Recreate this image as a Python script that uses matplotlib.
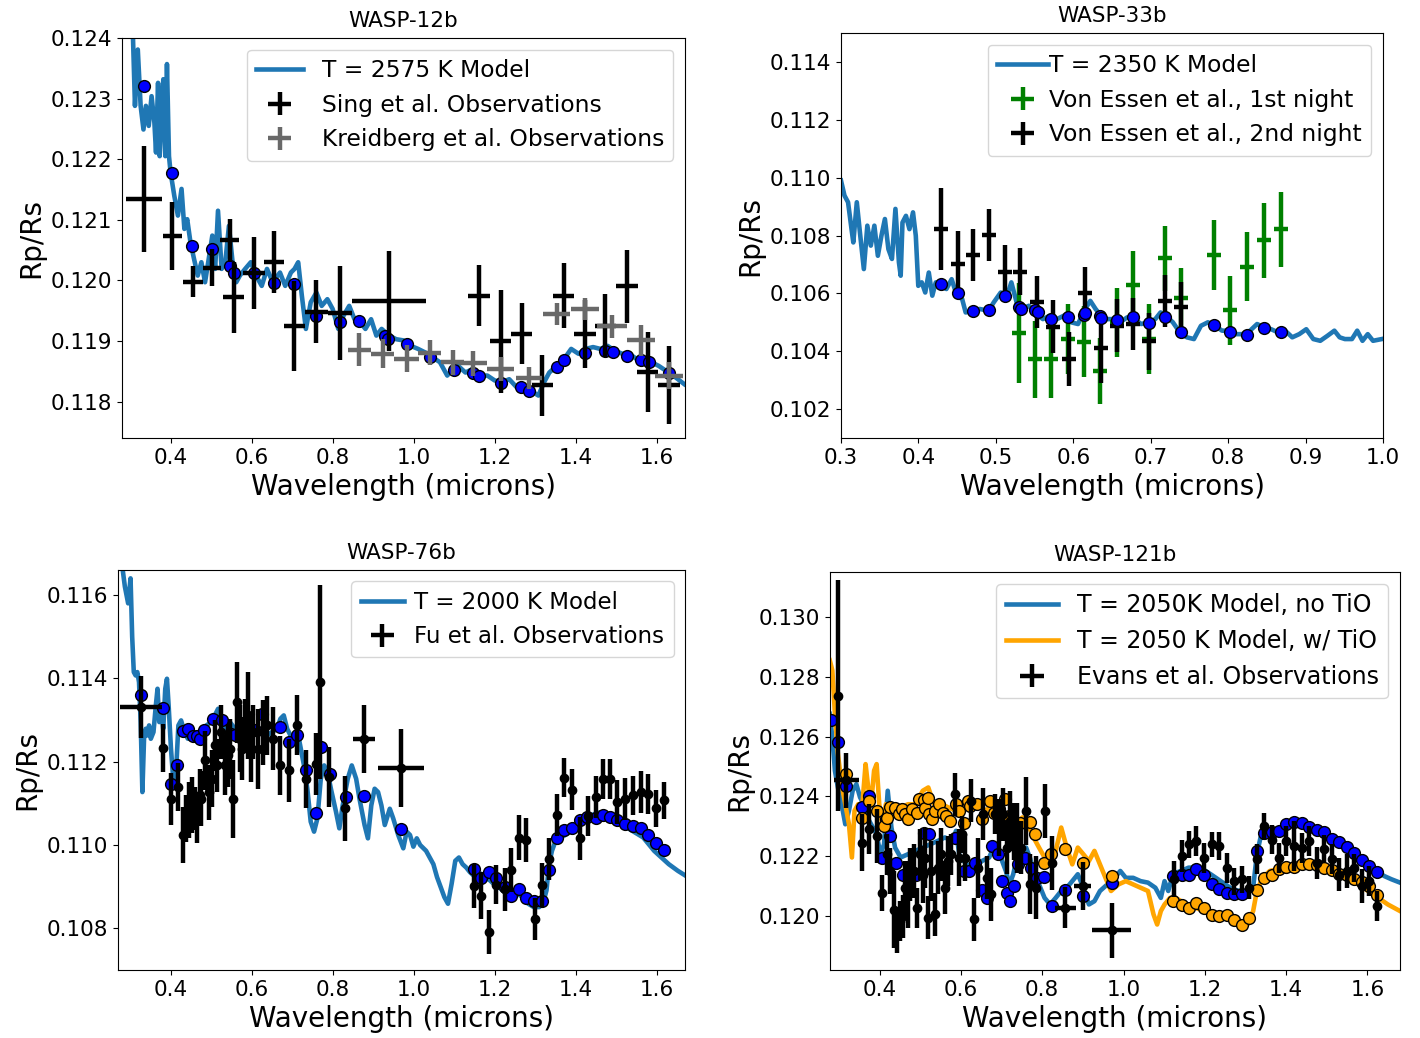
import matplotlib
matplotlib.use('Agg')
import matplotlib.pyplot as plt
from matplotlib import ticker

# ---------------- WASP-12b ----------------
w12_model_wl = [0.305, 0.312, 0.319, 0.326, 0.333, 0.339, 0.346, 0.353, 0.360, 0.364,
                0.369, 0.373, 0.378, 0.382, 0.387, 0.391, 0.396, 0.400, 0.409, 0.418,
                0.427, 0.434, 0.441, 0.449, 0.458, 0.467, 0.476, 0.485, 0.494, 0.503,
                0.510, 0.517, 0.526, 0.535, 0.544, 0.553, 0.562, 0.571, 0.584, 0.598,
                0.611, 0.625, 0.638, 0.652, 0.670, 0.683, 0.697, 0.706, 0.715, 0.724,
                0.734, 0.746, 0.760, 0.773, 0.787, 0.800, 0.814, 0.827, 0.841, 0.854,
                0.868, 0.881, 0.895, 0.908, 0.921, 0.939, 0.957, 0.975, 0.993, 1.011,
                1.029, 1.047, 1.065, 1.083, 1.097, 1.110, 1.128, 1.146, 1.164, 1.182,
                1.200, 1.218, 1.236, 1.254, 1.272, 1.290, 1.308, 1.322, 1.335, 1.353,
                1.371, 1.389, 1.407, 1.425, 1.443, 1.461, 1.479, 1.497, 1.515, 1.533,
                1.551, 1.569, 1.587, 1.605, 1.623, 1.641, 1.668]
w12_model_rp = [0.12450, 0.12288, 0.12381, 0.12288, 0.12249, 0.12288, 0.12255, 0.12304, 0.12260, 0.12211,
                0.12326, 0.12205, 0.12277, 0.12332, 0.12205, 0.12357, 0.12205, 0.12178, 0.12140, 0.12107,
                0.12151, 0.12085, 0.12101, 0.12063, 0.12035, 0.12008, 0.12030, 0.11997, 0.12035, 0.12074,
                0.12019, 0.12115, 0.12019, 0.12030, 0.12090, 0.12030, 0.11997, 0.12008, 0.12019, 0.12030,
                0.12008, 0.11991, 0.12019, 0.11997, 0.12013, 0.11991, 0.12013, 0.12019, 0.12030, 0.11975,
                0.11920, 0.11964, 0.11980, 0.11958, 0.11969, 0.11953, 0.11920, 0.11942, 0.11958, 0.11936,
                0.11931, 0.11920, 0.11936, 0.11909, 0.11920, 0.11909, 0.11903, 0.11901, 0.11892, 0.11887,
                0.11881, 0.11873, 0.11865, 0.11843, 0.11854, 0.11859, 0.11848, 0.11854, 0.11843, 0.11843,
                0.11835, 0.11832, 0.11837, 0.11824, 0.11824, 0.11818, 0.11810, 0.11832, 0.11848, 0.11859,
                0.11870, 0.11887, 0.11879, 0.11887, 0.11890, 0.11887, 0.11892, 0.11884, 0.11879, 0.11879,
                0.11870, 0.11870, 0.11865, 0.11859, 0.11851, 0.11843, 0.11829]
w12_bin_wl = [0.3344, 0.4045, 0.4539, 0.5016, 0.5465, 0.5555, 0.6050, 0.6562, 0.7057, 0.7596,
              0.8189, 0.8657, 0.9304, 0.9367, 0.9826, 1.0410, 1.0994, 1.1462, 1.1624, 1.2145,
              1.2648, 1.2855, 1.3529, 1.3709, 1.4231, 1.4716, 1.4922, 1.5264, 1.5615, 1.5822,
              1.6316]
w12_bin_rp = [0.12320, 0.12178, 0.12057, 0.12052, 0.12024, 0.12013, 0.12013, 0.11996, 0.11994, 0.11942,
              0.11931, 0.11933, 0.11908, 0.11904, 0.11895, 0.11873, 0.11853, 0.11848, 0.11843, 0.11831,
              0.11824, 0.11818, 0.11857, 0.11869, 0.11881, 0.11883, 0.11882, 0.11876, 0.11869, 0.11866,
              0.11847]
sing_wl = [0.3344, 0.4045, 0.4557, 0.5016, 0.5465, 0.5555, 0.6050, 0.6562, 0.7057, 0.7596,
           0.8180, 0.9394, 1.1624, 1.2145, 1.2666, 1.3179, 1.3709, 1.4231, 1.4734, 1.5264,
           1.5777, 1.6298]
sing_wl_err = [0.045, 0.024, 0.025, 0.0225, 0.0234, 0.0256, 0.027, 0.0247, 0.025, 0.029,
               0.030, 0.0908, 0.027, 0.0265, 0.0265, 0.026, 0.026, 0.026, 0.0256, 0.0265,
               0.026, 0.027]
sing_rp = [0.12134, 0.12074, 0.11998, 0.12021, 0.12066, 0.11972, 0.12012, 0.12031, 0.11925, 0.11948,
           0.11946, 0.11966, 0.11975, 0.11900, 0.11912, 0.11827, 0.11975, 0.11912, 0.11925, 0.11990,
           0.11849, 0.11827]
sing_rp_err = [0.00087, 0.00056, 0.00025, 0.00031, 0.00036, 0.00058, 0.00059, 0.00051, 0.00074, 0.00052,
               0.00078, 0.00082, 0.00051, 0.00085, 0.00050, 0.00050, 0.00053, 0.00056, 0.00052, 0.00061,
               0.00066, 0.00064]
kreid_wl = [0.8657, 0.9232, 0.9826, 1.0401, 1.0967, 1.1462, 1.2145, 1.2855, 1.3529, 1.4231,
            1.4896, 1.5615, 1.6298]
kreid_wl_err = [0.0279, 0.0292, 0.0301, 0.0283, 0.0283, 0.035, 0.0337, 0.0324, 0.0328, 0.0337,
                0.0369, 0.0337, 0.035]
kreid_rp = [0.11886, 0.11879, 0.11871, 0.11881, 0.11865, 0.11863, 0.11854, 0.11839, 0.11944, 0.11953,
            0.11924, 0.11901, 0.11843]
kreid_rp_err = [0.00028, 0.00024, 0.00022, 0.00021, 0.00021, 0.00020, 0.00020, 0.00018, 0.00018, 0.00018,
                0.00019, 0.00025, 0.00022]

# ---------------- WASP-33b ----------------
w33_model_wl = [0.300, 0.3045, 0.3091, 0.3136, 0.3159, 0.3204, 0.3249, 0.3295, 0.3340, 0.3385,
                0.3431, 0.3476, 0.3522, 0.3567, 0.3612, 0.3658, 0.3703, 0.3748, 0.3771, 0.3794,
                0.3839, 0.3884, 0.3930, 0.3966, 0.3998, 0.4043, 0.4088, 0.4134, 0.4179, 0.4224,
                0.4293, 0.4361, 0.4429, 0.4497, 0.4565, 0.4610, 0.4701, 0.4791, 0.4905, 0.4973,
                0.5063, 0.5132, 0.5200, 0.5268, 0.5336, 0.5426, 0.5517, 0.5608, 0.5698, 0.5789,
                0.5880, 0.5971, 0.6061, 0.6152, 0.6220, 0.6288, 0.6356, 0.6424, 0.6515, 0.6605,
                0.6696, 0.6787, 0.6878, 0.6968, 0.7059, 0.7127, 0.7195, 0.7286, 0.7376, 0.7467,
                0.7558, 0.7649, 0.7739, 0.7830, 0.7921, 0.8011, 0.8102, 0.8193, 0.8283, 0.8374,
                0.8465, 0.8556, 0.8646, 0.8737, 0.8828, 0.8918, 0.9009, 0.9100, 0.9190, 0.9281,
                0.9372, 0.9440, 0.9508, 0.9599, 0.9667, 0.9735, 0.9803, 0.9871, 0.9984]
w33_model_rp = [0.10990, 0.10938, 0.10915, 0.10822, 0.10776, 0.10915, 0.10799, 0.10684, 0.10834, 0.10765,
                0.10834, 0.10730, 0.10799, 0.10857, 0.10753, 0.10719, 0.10892, 0.10707, 0.10661, 0.10845,
                0.10868, 0.10822, 0.10880, 0.10799, 0.10626, 0.10638, 0.10603, 0.10672, 0.10592, 0.10638,
                0.10626, 0.10615, 0.10649, 0.10592, 0.10580, 0.10534, 0.10540, 0.10546, 0.10540, 0.10569,
                0.10603, 0.10580, 0.10638, 0.10569, 0.10546, 0.10557, 0.10528, 0.10511, 0.10523, 0.10511,
                0.10523, 0.10500, 0.10494, 0.10546, 0.10574, 0.10546, 0.10523, 0.10511, 0.10511, 0.10500,
                0.10517, 0.10511, 0.10494, 0.10500, 0.10511, 0.10534, 0.10523, 0.10500, 0.10465, 0.10448,
                0.10442, 0.10488, 0.10500, 0.10488, 0.10471, 0.10471, 0.10459, 0.10459, 0.10471, 0.10494,
                0.10482, 0.10476, 0.10465, 0.10471, 0.10448, 0.10459, 0.10476, 0.10442, 0.10436, 0.10453,
                0.10471, 0.10448, 0.10442, 0.10442, 0.10471, 0.10436, 0.10459, 0.10436, 0.10442]
w33_bin_wl = [0.4293, 0.4506, 0.4710, 0.4914, 0.5118, 0.5299, 0.5327, 0.5503, 0.5540, 0.5717,
              0.5930, 0.6138, 0.6156, 0.6342, 0.6361, 0.6560, 0.6769, 0.6973, 0.7186, 0.7390,
              0.7812, 0.8029, 0.8243, 0.8465, 0.8687]
w33_bin_rp = [0.10634, 0.10600, 0.10539, 0.10543, 0.10592, 0.10554, 0.10546, 0.10542, 0.10536, 0.10511,
              0.10518, 0.10525, 0.10532, 0.10523, 0.10516, 0.10509, 0.10520, 0.10497, 0.10518, 0.10467,
              0.10491, 0.10467, 0.10457, 0.10481, 0.10467]
night1_wl = [0.5299, 0.5503, 0.5717, 0.5930, 0.6138, 0.6342, 0.6560, 0.6769, 0.6973, 0.7186,
             0.7390, 0.7812, 0.8029, 0.8243, 0.8465, 0.8687]
night1_rp = [0.10463, 0.10373, 0.10373, 0.10442, 0.10433, 0.10332, 0.10500, 0.10630, 0.10442, 0.10721,
             0.10583, 0.10732, 0.10542, 0.10692, 0.10784, 0.10822]
night1_err = [0.00173, 0.00133, 0.00133, 0.00122, 0.00122, 0.00113, 0.00119, 0.00115, 0.00120, 0.00112,
              0.00106, 0.00120, 0.00119, 0.00120, 0.00130, 0.00130]
night2_wl = [0.4293, 0.4506, 0.4710, 0.4914, 0.5118, 0.5317, 0.5531, 0.5735, 0.5948, 0.6152,
             0.6356, 0.6560, 0.6769, 0.6973, 0.7186, 0.7390]
night2_rp = [0.10822, 0.10701, 0.10732, 0.10803, 0.10675, 0.10675, 0.10569, 0.10485, 0.10373, 0.10600,
             0.10410, 0.10488, 0.10494, 0.10434, 0.10574, 0.10554]
night2_err = [0.00141, 0.00115, 0.00091, 0.00090, 0.00092, 0.00081, 0.00090, 0.00092, 0.00092, 0.00090,
              0.00121, 0.00092, 0.00091, 0.00098, 0.00090, 0.00084]
w33_wl_err = 0.009

# ---------------- WASP-76b ----------------
w76_model_wl = [0.279, 0.287, 0.295, 0.301, 0.305, 0.309, 0.3135, 0.3177, 0.3219, 0.3260,
                0.3302, 0.3343, 0.3385, 0.3426, 0.3468, 0.3510, 0.3576, 0.3634, 0.3676, 0.3719,
                0.3759, 0.3817, 0.3867, 0.3909, 0.3950, 0.4008, 0.4075, 0.4133, 0.4191, 0.4258,
                0.4341, 0.4424, 0.4507, 0.4590, 0.4673, 0.4756, 0.4881, 0.5006, 0.5172, 0.5255,
                0.5338, 0.5463, 0.5588, 0.5754, 0.5920, 0.6086, 0.6253, 0.6377, 0.6502, 0.6627,
                0.6710, 0.6793, 0.6876, 0.7001, 0.7167, 0.7292, 0.7375, 0.7458, 0.7541, 0.7624,
                0.7707, 0.7791, 0.7874, 0.7957, 0.8082, 0.8165, 0.8248, 0.8373, 0.8472, 0.8580,
                0.8663, 0.8788, 0.8871, 0.8954, 0.9037, 0.9121, 0.9204, 0.9287, 0.9411, 0.9495,
                0.9619, 0.9744, 0.9827, 0.9910, 0.9993, 1.0077, 1.0160, 1.0307, 1.0397, 1.0487,
                1.0577, 1.0667, 1.0758, 1.0848, 1.0938, 1.1028, 1.1118, 1.1208, 1.1298, 1.1388,
                1.1478, 1.1568, 1.1659, 1.1749, 1.1884, 1.2019, 1.2154, 1.2289, 1.2424, 1.2560,
                1.2695, 1.2830, 1.2965, 1.3100, 1.3190, 1.3280, 1.3343, 1.3415, 1.3505, 1.3641,
                1.3776, 1.3911, 1.4046, 1.4181, 1.4316, 1.4452, 1.4587, 1.4722, 1.4857, 1.4992,
                1.5127, 1.5263, 1.5398, 1.5533, 1.5668, 1.5803, 1.5938, 1.6118, 1.6299, 1.6524,
                1.6704]
w76_model_rp = [0.11680, 0.11620, 0.11580, 0.11640, 0.11500, 0.11415, 0.11407, 0.11415, 0.11391, 0.11295,
                0.11127, 0.11255, 0.11279, 0.11263, 0.11287, 0.11255, 0.11271, 0.11335, 0.11375, 0.11295,
                0.11335, 0.11279, 0.11375, 0.11399, 0.11335, 0.11231, 0.11143, 0.11175, 0.11287, 0.11299,
                0.11271, 0.11255, 0.11263, 0.11255, 0.11255, 0.11263, 0.11287, 0.11295, 0.11327, 0.11295,
                0.11279, 0.11295, 0.11279, 0.11279, 0.11255, 0.11271, 0.11279, 0.11263, 0.11271, 0.11279,
                0.11303, 0.11311, 0.11279, 0.11255, 0.11255, 0.11191, 0.11135, 0.11056, 0.11032, 0.11064,
                0.11159, 0.11191, 0.11175, 0.11135, 0.11080, 0.11040, 0.11095, 0.11159, 0.11191, 0.11159,
                0.11111, 0.11048, 0.11016, 0.11095, 0.11135, 0.11127, 0.11095, 0.11048, 0.11087, 0.11064,
                0.11024, 0.10992, 0.11032, 0.11024, 0.10996, 0.11016, 0.11000, 0.10986, 0.10970, 0.10954,
                0.10923, 0.10899, 0.10875, 0.10859, 0.10907, 0.10962, 0.10970, 0.10954, 0.10946, 0.10935,
                0.10927, 0.10919, 0.10931, 0.10923, 0.10915, 0.10903, 0.10895, 0.10883, 0.10883, 0.10883,
                0.10875, 0.10859, 0.10851, 0.10851, 0.10859, 0.10891, 0.10954, 0.10986, 0.11010, 0.11018,
                0.11026, 0.11034, 0.11054, 0.11066, 0.11066, 0.11074, 0.11078, 0.11074, 0.11066, 0.11058,
                0.11050, 0.11042, 0.11034, 0.11026, 0.11018, 0.11002, 0.10986, 0.10970, 0.10954, 0.10938,
                0.10927]
w76_bin_wl = [0.3277, 0.3817, 0.4008, 0.4158, 0.4308, 0.4432, 0.4549, 0.4657, 0.4715, 0.4823,
              0.5047, 0.5272, 0.5480, 0.5588, 0.5837, 0.6086, 0.6253, 0.6710, 0.6918, 0.7126,
              0.7350, 0.7583, 0.7707, 0.7932, 0.8331, 0.8772, 0.9686,
              1.1481, 1.1664, 1.1872, 1.2038, 1.2246, 1.2412, 1.2604, 1.2786, 1.2969, 1.3177,
              1.3352, 1.3551, 1.3717, 1.3909, 1.4100, 1.4283, 1.4491, 1.4673, 1.4848, 1.5031,
              1.5222, 1.5421, 1.5613, 1.5795, 1.5987, 1.6170]
w76_bin_rp = [0.11361, 0.11329, 0.11147, 0.11193, 0.11274, 0.11279, 0.11261, 0.11262, 0.11255, 0.11277,
              0.11303, 0.11299, 0.11267, 0.11265, 0.11271, 0.11275, 0.11315, 0.11283, 0.11247, 0.11265,
              0.11179, 0.11076, 0.11235, 0.11171, 0.11115, 0.11117, 0.11038,
              0.10942, 0.10920, 0.10936, 0.10920, 0.10900, 0.10878, 0.10894, 0.10872, 0.10866, 0.10866,
              0.10940, 0.11018, 0.11037, 0.11041, 0.11060, 0.11068, 0.11064, 0.11072, 0.11068, 0.11060,
              0.11050, 0.11045, 0.11040, 0.11024, 0.11004, 0.10988]
fu_wl = [0.3277, 0.3817, 0.4008, 0.4175, 0.4316, 0.4382, 0.4449, 0.4524, 0.4590, 0.4657,
         0.4715, 0.4756, 0.4856, 0.4948, 0.5022, 0.5089, 0.5155, 0.5255, 0.5338, 0.5405,
         0.5463, 0.5546, 0.5646, 0.5712, 0.5771, 0.5837, 0.5904, 0.5987, 0.6045, 0.6153,
         0.6269, 0.6377, 0.6519, 0.6710, 0.6934, 0.7126, 0.7350, 0.7583, 0.7699, 0.7915,
         0.8314, 0.8771, 0.9686,
         1.1481, 1.1664, 1.1872, 1.2038, 1.2246, 1.2412, 1.2604, 1.2786, 1.2994, 1.3177,
         1.3352, 1.3551, 1.3717, 1.3909, 1.4100, 1.4299, 1.4491, 1.4682, 1.4848, 1.5031,
         1.5222, 1.5421, 1.5613, 1.5795, 1.5987, 1.6170]
fu_wl_err = [0.052, 0, 0, 0, 0, 0, 0, 0, 0, 0,
             0, 0, 0, 0, 0, 0, 0, 0, 0, 0,
             0, 0, 0, 0, 0, 0, 0, 0, 0, 0,
             0, 0, 0, 0, 0, 0, 0, 0, 0, 0,
             0, 0.027, 0.057,
             0, 0, 0, 0, 0, 0, 0, 0, 0, 0,
             0, 0, 0, 0, 0, 0, 0, 0, 0, 0,
             0, 0, 0, 0, 0, 0]
fu_rp = [0.11331, 0.11233, 0.11111, 0.11139, 0.11024, 0.11064, 0.11084, 0.11096, 0.11088, 0.11064,
         0.11119, 0.11111, 0.11203, 0.11127, 0.11159, 0.11239, 0.11191, 0.11271, 0.11191, 0.11215,
         0.11231, 0.11111, 0.11343, 0.11255, 0.11231, 0.11287, 0.11311, 0.11231, 0.11271, 0.11231,
         0.11271, 0.11287, 0.11255, 0.11191, 0.11179, 0.11287, 0.11159, 0.11195, 0.11392, 0.11163,
         0.11088, 0.11254, 0.11185,
         0.10901, 0.10878, 0.10791, 0.10905, 0.10894, 0.10941, 0.11018, 0.11012, 0.10822, 0.10905,
         0.10966, 0.11072, 0.11162, 0.11133, 0.11016, 0.11070, 0.11115, 0.11159, 0.11159, 0.11103,
         0.11111, 0.11119, 0.11127, 0.11123, 0.11088, 0.11107]
fu_rp_err = [0.00074, 0.00058, 0.00062, 0.00057, 0.00068, 0.00056, 0.00068, 0.00068, 0.00052, 0.00058,
             0.00064, 0.00066, 0.00070, 0.00066, 0.00068, 0.00062, 0.00064, 0.00064, 0.00072, 0.00076,
             0.00072, 0.00094, 0.00097, 0.00080, 0.00076, 0.00064, 0.00105, 0.00080, 0.00064, 0.00096,
             0.00078, 0.00070, 0.00076, 0.00070, 0.00076, 0.00072, 0.00070, 0.00074, 0.00233, 0.00072,
             0.00078, 0.00082, 0.00094,
             0.00053, 0.00056, 0.00053, 0.00046, 0.00052, 0.00053, 0.00053, 0.00053, 0.00050, 0.00053,
             0.00050, 0.00050, 0.00047, 0.00050, 0.00052, 0.00048, 0.00050, 0.00048, 0.00048, 0.00052,
             0.00050, 0.00046, 0.00050, 0.00048, 0.00044, 0.00044]

# ---------------- WASP-121b ----------------
notio_wl = [0.2774, 0.2838, 0.2901, 0.2974, 0.3065, 0.3156, 0.3246, 0.3337, 0.3428, 0.3519,
            0.3610, 0.3700, 0.3791, 0.3927, 0.4018, 0.4109, 0.4200, 0.4291, 0.4381, 0.4518,
            0.4699, 0.4881, 0.5062, 0.5244, 0.5425, 0.5607, 0.5789, 0.5879, 0.5970, 0.6152,
            0.6333, 0.6515, 0.6696, 0.6833, 0.6923, 0.7014, 0.7105, 0.7196, 0.7287, 0.7377,
            0.7468, 0.7604, 0.7695, 0.7786, 0.7922, 0.8058, 0.8194, 0.8331, 0.8467, 0.8603,
            0.8739, 0.8875, 0.9011, 0.9148, 0.9284, 0.9420, 0.9602, 0.9783, 0.9920, 1.0056,
            1.0237, 1.0419, 1.0601, 1.0782, 1.0918, 1.1009, 1.1100, 1.1191, 1.1281, 1.1418,
            1.1599, 1.1781, 1.1962, 1.2144, 1.2326, 1.2507, 1.2689, 1.2870, 1.3052, 1.3188,
            1.3279, 1.3370, 1.3506, 1.3687, 1.3869, 1.4050, 1.4232, 1.4414, 1.4595, 1.4777,
            1.4958, 1.5140, 1.5321, 1.5503, 1.5685, 1.5866, 1.6048, 1.6229, 1.6411, 1.6593,
            1.6801]
notio_rp = [0.12676, 0.12598, 0.12486, 0.12430, 0.12374, 0.12307, 0.12352, 0.12419, 0.12441, 0.12397,
            0.12374, 0.12330, 0.12307, 0.12274, 0.12207, 0.12240, 0.12419, 0.12296, 0.12229, 0.12196,
            0.12207, 0.12218, 0.12229, 0.12240, 0.12251, 0.12263, 0.12251, 0.12285, 0.12196, 0.12173,
            0.12162, 0.12184, 0.12196, 0.12240, 0.12229, 0.12184, 0.12151, 0.12106, 0.12140, 0.12196,
            0.12218, 0.12229, 0.12196, 0.12151, 0.12106, 0.12061, 0.12039, 0.12061, 0.12084, 0.12095,
            0.12117, 0.12140, 0.12095, 0.12039, 0.12050, 0.12084, 0.12106, 0.12128, 0.12151, 0.12128,
            0.12128, 0.12117, 0.12112, 0.12095, 0.12061, 0.12117, 0.12084, 0.12128, 0.12145, 0.12151,
            0.12162, 0.12162, 0.12156, 0.12140, 0.12123, 0.12106, 0.12089, 0.12084, 0.12078, 0.12095,
            0.12207, 0.12263, 0.12274, 0.12285, 0.12296, 0.12307, 0.12318, 0.12313, 0.12302, 0.12291,
            0.12279, 0.12263, 0.12246, 0.12229, 0.12207, 0.12184, 0.12162, 0.12151, 0.12134, 0.12123,
            0.12112]
tio_wl = [0.2774, 0.2838, 0.2901, 0.2974, 0.3065, 0.3156, 0.3246, 0.3319, 0.3383, 0.3473,
          0.3564, 0.3655, 0.3719, 0.3791, 0.3864, 0.3927, 0.3991, 0.4064, 0.4154, 0.4245,
          0.4336, 0.4518, 0.4699, 0.4881, 0.5062, 0.5198, 0.5335, 0.5516, 0.5698, 0.5879,
          0.6061, 0.6243, 0.6424, 0.6606, 0.6787, 0.6969, 0.7150, 0.7332, 0.7514, 0.7650,
          0.7786, 0.7922, 0.8058, 0.8194, 0.8331, 0.8467, 0.8603, 0.8739, 0.8875, 0.9011,
          0.9148, 0.9284, 0.9420, 0.9556, 0.9692, 0.9874, 1.0056, 1.0237, 1.0419, 1.0601,
          1.0737, 1.0827, 1.0918, 1.1009, 1.1145, 1.1281, 1.1418, 1.1599, 1.1781, 1.1962,
          1.2144, 1.2326, 1.2507, 1.2689, 1.2870, 1.3052, 1.3188, 1.3279, 1.3415, 1.3597,
          1.3778, 1.3960, 1.4141, 1.4323, 1.4504, 1.4686, 1.4868, 1.5049, 1.5231, 1.5412,
          1.5594, 1.5775, 1.5957, 1.6139, 1.6320, 1.6502, 1.6801]
tio_rp = [0.12855, 0.12821, 0.12676, 0.12542, 0.12441, 0.12374, 0.12307, 0.12196, 0.12352, 0.12374,
          0.12352, 0.12508, 0.12430, 0.12374, 0.12486, 0.12508, 0.12374, 0.12307, 0.12374, 0.12363,
          0.12363, 0.12363, 0.12374, 0.12374, 0.12419, 0.12430, 0.12374, 0.12374, 0.12363, 0.12352,
          0.12374, 0.12385, 0.12374, 0.12352, 0.12374, 0.12330, 0.12285, 0.12307, 0.12330, 0.12307,
          0.12263, 0.12229, 0.12196, 0.12184, 0.12218, 0.12296, 0.12229, 0.12173, 0.12229, 0.12207,
          0.12184, 0.12218, 0.12173, 0.12128, 0.12084, 0.12106, 0.12117, 0.12106, 0.12095, 0.12084,
          0.12006, 0.11972, 0.12017, 0.12039, 0.12061, 0.12061, 0.12050, 0.12028, 0.12028, 0.12017,
          0.12006, 0.12006, 0.12000, 0.11994, 0.11983, 0.11972, 0.12017, 0.12084, 0.12128, 0.12151,
          0.12156, 0.12162, 0.12168, 0.12168, 0.12173, 0.12173, 0.12162, 0.12151, 0.12140, 0.12128,
          0.12117, 0.12106, 0.12089, 0.12073, 0.12056, 0.12039, 0.12017]
notio_bin_wl = [0.2816, 0.2980, 0.3177, 0.3570, 0.3751, 0.4062, 0.4169, 0.4267, 0.4415, 0.4571,
                0.4718, 0.4899, 0.5087, 0.5210, 0.5866, 0.6071, 0.6194, 0.6358, 0.6522, 0.6645,
                0.6768, 0.6916, 0.7014, 0.7137, 0.7219, 0.7318, 0.7408, 0.7588, 0.7736, 0.7875,
                0.8039, 0.8244, 0.8572,
                0.8999, 0.9704, 1.1221, 1.1426, 1.1606, 1.1787, 1.1975, 1.2164, 1.2345, 1.2533,
                1.2713, 1.2902, 1.3271, 1.3452, 1.3640, 1.3820, 1.4001, 1.4189, 1.4378, 1.4558,
                1.4747, 1.4927, 1.5116, 1.5296, 1.5485, 1.5674, 1.5854, 1.6043, 1.6223]
notio_bin_rp = [0.12654, 0.12583, 0.12435, 0.12365, 0.12401, 0.12195, 0.12326, 0.12268, 0.12178, 0.12139,
                0.12151, 0.12139, 0.12279, 0.12273, 0.12262, 0.12151, 0.12151, 0.12178, 0.12089, 0.12061,
                0.12234, 0.12209, 0.12119, 0.12078, 0.12052, 0.12100, 0.12173, 0.12195, 0.12162, 0.12128,
                0.12131, 0.12034, 0.12086,
                0.12067, 0.12112, 0.12134, 0.12137, 0.12139, 0.12156, 0.12136, 0.12108, 0.12092, 0.12078,
                0.12073, 0.12073, 0.12217, 0.12279, 0.12282, 0.12284, 0.12307, 0.12314, 0.12310, 0.12299,
                0.12288, 0.12281, 0.12259, 0.12248, 0.12232, 0.12212, 0.12186, 0.12167, 0.12147]
tio_bin_wl = [0.3177, 0.3570, 0.3751, 0.3939, 0.4103, 0.4185, 0.4267, 0.4390, 0.4472, 0.4554,
              0.4636, 0.4702, 0.4800, 0.4923, 0.4981, 0.5087, 0.5128, 0.5194, 0.5210, 0.5292,
              0.5374, 0.5456, 0.5555, 0.5637, 0.5743, 0.5883, 0.5948, 0.6071, 0.6178, 0.6235,
              0.6399, 0.6522, 0.6727, 0.6809, 0.6932, 0.7096, 0.7178, 0.7301, 0.7465, 0.7695,
              0.7834, 0.8039, 0.8228, 0.8556,
              0.8999, 0.9704, 1.1221, 1.1426, 1.1606, 1.1787, 1.1975, 1.2164, 1.2345, 1.2533,
              1.2713, 1.2902, 1.3082, 1.3271, 1.3452, 1.3640, 1.3820, 1.4001, 1.4189, 1.4378,
              1.4558, 1.4747, 1.4927, 1.5116, 1.5296, 1.5485, 1.5674, 1.5854, 1.6043, 1.6223]
tio_bin_rp = [0.12474, 0.12329, 0.12385, 0.12351, 0.12301, 0.12329, 0.12365, 0.12360, 0.12342, 0.12357,
              0.12340, 0.12323, 0.12357, 0.12346, 0.12390, 0.12387, 0.12362, 0.12396, 0.12340, 0.12323,
              0.12351, 0.12374, 0.12346, 0.12335, 0.12318, 0.12376, 0.12351, 0.12312, 0.12385, 0.12368,
              0.12374, 0.12323, 0.12385, 0.12346, 0.12357, 0.12390, 0.12335, 0.12312, 0.12312, 0.12314,
              0.12273, 0.12178, 0.12206, 0.12223,
              0.12178, 0.12134, 0.12052, 0.12037, 0.12028, 0.12045, 0.12028, 0.12003, 0.12000, 0.12003,
              0.11986, 0.11972, 0.11995, 0.12089, 0.12126, 0.12137, 0.12156, 0.12164, 0.12165, 0.12173,
              0.12175, 0.12170, 0.12160, 0.12153, 0.12142, 0.12137, 0.12125, 0.12114, 0.12100, 0.12070]
evans_wl = [0.2972, 0.3177, 0.3570, 0.3751, 0.3939, 0.4062, 0.4185, 0.4267, 0.4366, 0.4431,
            0.4497, 0.4571, 0.4636, 0.4702, 0.4759, 0.4841, 0.4923, 0.4989, 0.5062, 0.5128,
            0.5194, 0.5276, 0.5358, 0.5440, 0.5522, 0.5604, 0.5686, 0.5768, 0.5850, 0.5948,
            0.6030, 0.6112, 0.6252, 0.6333, 0.6424, 0.6539, 0.6645, 0.6744, 0.6850, 0.6932,
            0.7031, 0.7137, 0.7219, 0.7301, 0.7383, 0.7490, 0.7605, 0.7695, 0.7851, 0.8056,
            0.8244, 0.8572, 0.8999, 0.9704,
            1.1237, 1.1426, 1.1606, 1.1787, 1.1975, 1.2164, 1.2345, 1.2533, 1.2713, 1.2902,
            1.3082, 1.3271, 1.3452, 1.3640, 1.3820, 1.4001, 1.4189, 1.4378, 1.4558, 1.4747,
            1.4927, 1.5116, 1.5296, 1.5485, 1.5674, 1.5854, 1.6043, 1.6223]
evans_wl_err = [0, 0.031, 0, 0, 0, 0, 0, 0, 0, 0,
                0, 0, 0, 0, 0, 0, 0, 0, 0, 0,
                0, 0, 0, 0, 0, 0, 0, 0, 0, 0,
                0, 0, 0, 0, 0, 0, 0, 0, 0, 0,
                0, 0, 0, 0, 0, 0, 0, 0, 0, 0,
                0, 0.025, 0.021, 0.048,
                0, 0, 0, 0, 0, 0, 0, 0, 0, 0,
                0, 0, 0, 0, 0, 0, 0, 0, 0, 0,
                0, 0, 0, 0, 0, 0, 0, 0]
evans_rp = [0.12737, 0.12454, 0.12245, 0.12290, 0.12268, 0.12078, 0.12206, 0.12151, 0.12022, 0.11950,
            0.11983, 0.12000, 0.12095, 0.12073, 0.12139, 0.12151, 0.12028, 0.12206, 0.12139, 0.12195,
            0.11995, 0.12151, 0.12006, 0.12162, 0.12206, 0.12095, 0.12184, 0.12206, 0.12407, 0.12195,
            0.12273, 0.12195, 0.12385, 0.11989, 0.12162, 0.12340, 0.12128, 0.12073, 0.12340, 0.12296,
            0.12340, 0.12229, 0.12318, 0.12284, 0.12262, 0.12229, 0.12351, 0.12106, 0.12095, 0.12351,
            0.12178, 0.12028, 0.12100, 0.11952,
            0.12123, 0.12201, 0.12240, 0.12251, 0.12195, 0.12240, 0.12234, 0.12162, 0.12117, 0.12123,
            0.12095, 0.12190, 0.12301, 0.12256, 0.12195, 0.12251, 0.12234, 0.12229, 0.12251, 0.12178,
            0.12223, 0.12190, 0.12139, 0.12151, 0.12162, 0.12100, 0.12117, 0.12034]
evans_rp_err = [0.00387, 0.00092, 0.00095, 0.00084, 0.00089, 0.00061, 0.00069, 0.00078, 0.00128, 0.00072,
                0.00067, 0.00072, 0.00089, 0.00111, 0.00089, 0.00089, 0.00067, 0.00084, 0.00095, 0.00100,
                0.00072, 0.00100, 0.00072, 0.00089, 0.00089, 0.00089, 0.00084, 0.00067, 0.00072, 0.00095,
                0.00061, 0.00078, 0.00072, 0.00072, 0.00100, 0.00087, 0.00072, 0.00089, 0.00067, 0.00095,
                0.00089, 0.00089, 0.00100, 0.00095, 0.00117, 0.00089, 0.00114, 0.00100, 0.00106, 0.00089,
                0.00089, 0.00069, 0.00080, 0.00093,
                0.00060, 0.00052, 0.00045, 0.00050, 0.00050, 0.00042, 0.00047, 0.00050, 0.00045, 0.00045,
                0.00039, 0.00050, 0.00045, 0.00047, 0.00050, 0.00050, 0.00084, 0.00050, 0.00050, 0.00053,
                0.00047, 0.00050, 0.00056, 0.00058, 0.00047, 0.00056, 0.00050, 0.00050]

# ---------------- plotting ----------------
model_blue = '#1f77b4'
LW = 3.3
TICK_FS = 15.5
LABEL_FS = 20
TITLE_FS = 15.5
LEG_FS = 16.8


def bins(ax, wl, rp, face, z=2):
    ax.plot(wl, rp, 'o', mfc=face, mec='black', mew=1, ms=8.5, zorder=z)


def obs(ax, wl, rp, rp_err, wl_err, color, label, dots=False):
    ax.errorbar(wl, rp, yerr=rp_err, xerr=wl_err, fmt='none', ecolor=color,
                elinewidth=3.2, capsize=0, label=label, zorder=3)
    if dots:
        ax.plot(wl, rp, 'o', color=color, ms=6, zorder=4)


def style(ax, title, xlim, ylim, xticks, yticks, xfmt):
    ax.set_title(title, fontsize=TITLE_FS, pad=8)
    ax.set_xlim(*xlim)
    ax.set_ylim(*ylim)
    ax.set_xticks(xticks)
    ax.set_yticks(yticks)
    ax.xaxis.set_major_formatter(ticker.FormatStrFormatter(xfmt))
    ax.yaxis.set_major_formatter(ticker.FormatStrFormatter('%.3f'))
    ax.tick_params(labelsize=TICK_FS)
    ax.set_xlabel('Wavelength (microns)', fontsize=LABEL_FS)
    ax.set_ylabel('Rp/Rs', fontsize=LABEL_FS)


fig = plt.figure(figsize=(14.2, 10.38), dpi=100)
ax1 = fig.add_axes([122 / 1420, 1 - 438 / 1038, 563 / 1420, 400 / 1038])
ax2 = fig.add_axes([841 / 1420, 1 - 438 / 1038, 542 / 1420, 405 / 1038])
ax3 = fig.add_axes([118 / 1420, 1 - 970 / 1038, 567 / 1420, 400 / 1038])
ax4 = fig.add_axes([830 / 1420, 1 - 970 / 1038, 570 / 1420, 398 / 1038])

wl_ticks = [0.4, 0.6, 0.8, 1.0, 1.2, 1.4, 1.6]

# WASP-12b
ax1.plot(w12_model_wl, w12_model_rp, color=model_blue, lw=LW, label='T = 2575 K Model', zorder=1)
bins(ax1, w12_bin_wl, w12_bin_rp, 'blue')
obs(ax1, sing_wl, sing_rp, sing_rp_err, sing_wl_err, 'black', 'Sing et al. Observations')
obs(ax1, kreid_wl, kreid_rp, kreid_rp_err, kreid_wl_err, 'dimgray', 'Kreidberg et al. Observations')
style(ax1, 'WASP-12b', (0.28, 1.67), (0.1174, 0.1240), wl_ticks,
      [0.118, 0.119, 0.120, 0.121, 0.122, 0.123, 0.124], '%.1f')
ax1.legend(loc='upper right', fontsize=LEG_FS)

# WASP-33b
ax2.plot(w33_model_wl, w33_model_rp, color=model_blue, lw=LW, label='T = 2350 K Model', zorder=1)
obs(ax2, night1_wl, night1_rp, night1_err, w33_wl_err, 'green', 'Von Essen et al., 1st night')
obs(ax2, night2_wl, night2_rp, night2_err, w33_wl_err, 'black', 'Von Essen et al., 2nd night')
bins(ax2, w33_bin_wl, w33_bin_rp, 'blue', z=5)
style(ax2, 'WASP-33b', (0.3, 1.0), (0.1010, 0.1150), [0.3, 0.4, 0.5, 0.6, 0.7, 0.8, 0.9, 1.0],
      [0.102, 0.104, 0.106, 0.108, 0.110, 0.112, 0.114], '%.1f')
ax2.legend(loc='upper right', fontsize=LEG_FS, handletextpad=0.05, handlelength=2.2)

# WASP-76b
ax3.plot(w76_model_wl, w76_model_rp, color=model_blue, lw=LW, label='T = 2000 K Model', zorder=1)
bins(ax3, w76_bin_wl, w76_bin_rp, 'blue')
obs(ax3, fu_wl, fu_rp, fu_rp_err, fu_wl_err, 'black', 'Fu et al. Observations', dots=True)
style(ax3, 'WASP-76b', (0.27, 1.67), (0.1070, 0.1166), wl_ticks,
      [0.108, 0.110, 0.112, 0.114, 0.116], '%.1f')
ax3.legend(loc='upper right', fontsize=16.5, handletextpad=0.45, handlelength=1.9)

# WASP-121b
ax4.plot(notio_wl, notio_rp, color=model_blue, lw=LW, label='T = 2050K Model, no TiO', zorder=1)
ax4.plot(tio_wl, tio_rp, color='orange', lw=LW, label='T = 2050 K Model, w/ TiO', zorder=1)
bins(ax4, notio_bin_wl, notio_bin_rp, 'blue')
bins(ax4, tio_bin_wl, tio_bin_rp, 'orange')
obs(ax4, evans_wl, evans_rp, evans_rp_err, evans_wl_err, 'black', 'Evans et al. Observations', dots=True)
style(ax4, 'WASP-121b', (0.278, 1.68), (0.1182, 0.1315), wl_ticks,
      [0.120, 0.122, 0.124, 0.126, 0.128, 0.130], '%.1f')
ax4.legend(loc='upper right', fontsize=17.0, handlelength=2.2)

plt.savefig('out.png', dpi=100)
